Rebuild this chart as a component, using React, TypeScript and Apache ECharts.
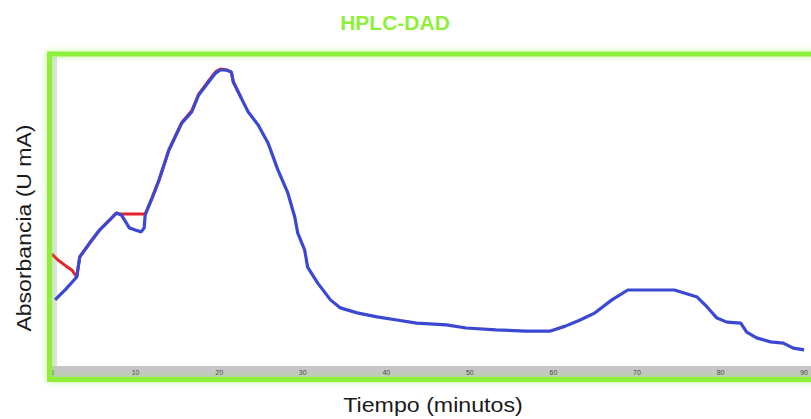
import React, { useEffect, useRef } from "react";
import * as echarts from "echarts";

const TITLE = "HPLC-DAD";
const X_NAME = "Tiempo (minutos)";
const Y_NAME = "Absorbancia (U mA)";
const X_TICKS = [0, 10, 20, 30, 40, 50, 60, 70, 80, 90];

// Blue trace (time in minutes, absorbance, arbitrary units)
const blueTime = [
  0.36, 1.66, 2.96, 3.32, 4.51, 5.69, 6.88, 7.71, 8.3, 8.89, 9.25, 9.96, 10.67, 11.03, 11.15,
  11.98, 12.81, 13.99, 15.53, 16.72, 17.55, 18.74, 19.57, 20.16, 20.87, 21.46, 21.7, 22.65,
  23.48, 24.67, 25.85, 27.04, 28.22, 29.05, 29.41, 30.24, 30.59, 31.78, 33.32, 34.51, 36.52,
  38.89, 41.27, 43.64, 47.2, 49.57, 53.12, 56.68, 59.65, 61.43, 63.2, 64.98, 67.0, 68.9, 71.5,
  74.47, 75.66, 77.2, 78.39, 79.57, 80.76, 82.42, 83.13, 84.31, 85.97, 87.51, 88.7, 90.0,
];
const blueAbs = [
  21.4, 24.9, 28.8, 35.3, 39.8, 44.0, 47.2, 49.5, 48.9, 46.3, 44.7, 44.0, 43.4, 44.7, 48.9,
  54.4, 60.2, 69.9, 78.6, 82.2, 87.7, 91.9, 94.8, 95.8, 95.8, 95.1, 91.9, 86.7,
  82.2, 78.0, 72.2, 63.4, 56.0, 48.2, 43.0, 37.5, 32.0, 26.9, 21.4, 18.8, 17.2,
  15.9, 14.9, 13.9, 13.3, 12.3, 11.7, 11.3, 11.3, 12.9, 14.9, 17.2, 21.4, 24.6, 24.6,
  24.6, 23.6, 22.3, 19.1, 15.5, 14.2, 13.9, 11.0, 9.1, 7.8, 7.4, 5.8, 5.2,
];

// Red trace (visible where it departs from the blue one)
const redTime = [
  0, 0.71, 1.66, 2.37, 2.96, 3.32, 4.51, 5.69, 6.88, 7.71, 8.06, 11.15, 11.98, 12.81, 13.99,
  15.53, 16.72, 17.55, 18.74, 19.57, 20.16, 20.87, 21.46, 21.7, 22.65,
];
const redAbs = [
  36.2, 34.3, 32.4, 31.1, 28.8, 35.3, 39.8, 44.0, 47.2, 49.5, 49.2, 49.2, 54.4, 60.2, 69.9,
  78.8, 82.6, 88.0, 92.3, 95.2, 96.1, 95.8, 95.1, 91.9, 86.7,
];

const zip = (a: number[], b: number[]) => a.map((v, i) => [v, b[i]]);

export default function App() {
  const ref = useRef<HTMLDivElement>(null);
  useEffect(() => {
    if (!ref.current) return;
    const chart = echarts.init(ref.current, undefined, { renderer: "svg" });
    const green = "#8ff03a";
    chart.setOption({
      animation: false,
      backgroundColor: "#ffffff",
      grid: { left: 52, right: 0, top: 57, bottom: 53, containLabel: false },
      xAxis: {
        type: "value",
        min: 0,
        max: 90,
        interval: 10,
        axisLine: { show: false },
        axisTick: { show: false },
        splitLine: { show: false },
        axisLabel: {
          fontSize: 7,
          color: "#444",
          margin: 3,
          fontFamily: "Liberation Sans",
          formatter: (v: number) => (X_TICKS.includes(v) ? String(v) : ""),
        },
      },
      yAxis: {
        type: "value",
        min: 0,
        max: 100,
        axisLine: { show: false },
        axisTick: { show: false },
        axisLabel: { show: false },
        splitLine: { show: false },
      },
      graphic: [
        { type: "rect", z: 0, shape: { x: 51, y: 57, width: 6, height: 309 }, style: { fill: "#e2e2e2" } },
        { type: "rect", z: 0, shape: { x: 51, y: 366, width: 770, height: 11 }, style: { fill: "#c6c6c6" } },
        {
          type: "rect",
          z: 10,
          shape: { x: 49.5, y: 54, width: 800, height: 325.5 },
          style: { fill: "none", stroke: green, lineWidth: 5, shadowColor: "rgba(150,240,80,0.6)", shadowBlur: 6 },
        },
        {
          type: "text",
          z: 10,
          x: 395,
          y: 22,
          style: {
            text: TITLE,
            fill: green,
            font: "bold 21px 'Liberation Sans', Arial, sans-serif",
            align: "center",
            verticalAlign: "middle",
            shadowColor: "rgba(80,80,80,0.7)",
            shadowBlur: 2,
            shadowOffsetX: 2,
            shadowOffsetY: 2,
          },
        },
        {
          type: "text",
          z: 10,
          x: 433,
          y: 405,
          scaleX: 1.16,
          style: {
            text: X_NAME,
            fill: "#1a1a1a",
            font: "20px 'Liberation Sans', Arial, sans-serif",
            align: "center",
            verticalAlign: "middle",
          },
        },
        {
          type: "text",
          z: 10,
          x: 24,
          y: 228,
          rotation: Math.PI / 2,
          scaleX: 1.15,
          style: {
            text: Y_NAME,
            fill: "#1a1a1a",
            font: "20px 'Liberation Sans', Arial, sans-serif",
            align: "center",
            verticalAlign: "middle",
          },
        },
      ],
      series: [
        {
          type: "line",
          data: zip(redTime, redAbs),
          showSymbol: false,
          lineStyle: { color: "#e82228", width: 3 },
          z: 3,
        },
        {
          type: "line",
          data: zip(blueTime, blueAbs),
          showSymbol: false,
          lineStyle: { color: "#3a48d2", width: 3.2 },
          z: 4,
        },
      ],
    });
    return () => chart.dispose();
  }, []);
  return <div ref={ref} style={{ width: 811, height: 419, position: "absolute", left: 0, top: 0 }} />;
}
